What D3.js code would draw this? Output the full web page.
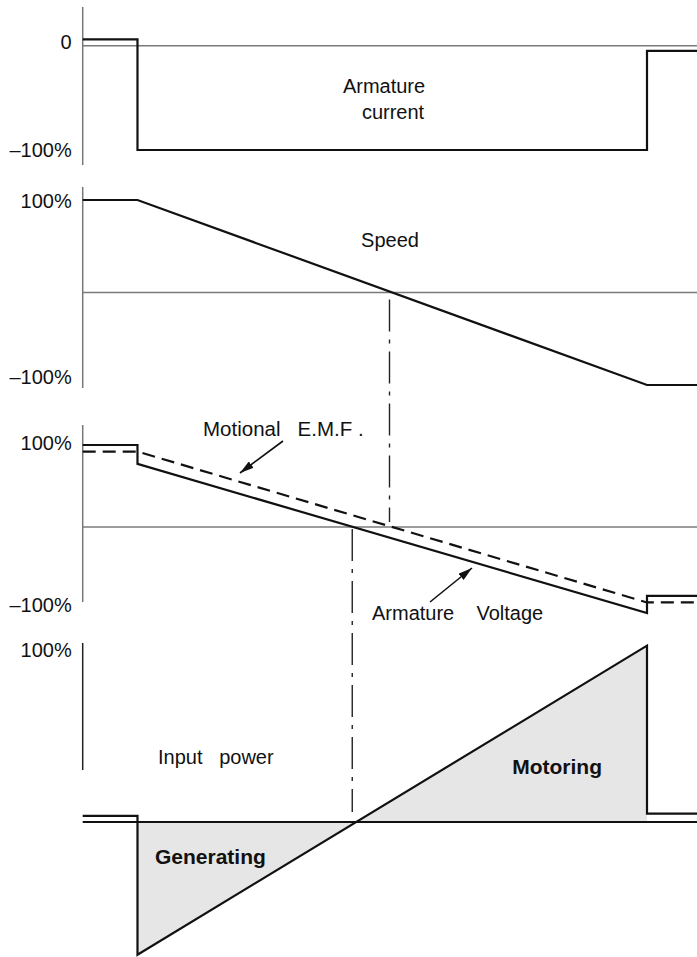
<!DOCTYPE html>
<html>
<head>
<meta charset="utf-8">
<script src="https://cdn.jsdelivr.net/npm/d3@7"></script>
<style>
  body { margin: 0; background: #fff; }
  text { font-family: "Liberation Sans", Arial, Helvetica, sans-serif; fill: #111; white-space: pre; }
</style>
</head>
<body>
<svg id="chart"></svg>
<script>
// time points (arbitrary units) and values in %
var currentT = [0, 1, 1, 10.3, 10.3, 11.25];
var currentV = [6, 6, -100, -100, -5, -5];
var speedT = [0, 1, 10.3, 11.25];
var speedV = [100, 100, -100, -100];
var emfT = [0, 1, 10.3, 11.25];
var emfV = [92, 92, -92, -92];
var voltT = [0, 1, 1, 10.3, 10.3, 11.25];
var voltV = [100, 100, 77, -105, -84, -84];
var powerT = [0, 1, 1, 10.3, 10.3, 11.25];
var powerV = [3.6, 3.6, -79, 105, 5, 5];
// times of the two dash-dot markers (speed zero, voltage zero)
var markerT = [5.6, 4.92];

var curTicks = [0, -100];
var curTickLabels = ["0", "\u2013100%"];
var spdTicks = [100, -100];
var volTicks = [100, -100];
var powTicks = [100];

var w = 697, h = 957;
var font = 20;

var svg = d3.select("#chart").attr("width", w).attr("height", h);

var x = d3.scaleLinear().domain([0, 10.3]).range([82.7, 647]);

var yCur = d3.scaleLinear().domain([0, -100]).range([45.7, 150]);
var ySpd = d3.scaleLinear().domain([100, -100]).range([200, 385]);
var yVol = d3.scaleLinear().domain([100, -100]).range([445, 609]);
var yPow = d3.scaleLinear().domain([0, 100]).range([822, 654]);

function pct(d) { return d < 0 ? "\u2013" + Math.abs(d) + "%" : d + "%"; }

// y axes: labels from d3.axisLeft, vertical line drawn by hand
// shift = small vertical nudge of each tick label, as in the drawing
function yAxis(scale, ticks, fmt, top, bottom, color, shift) {
  var g = svg.append("g")
    .attr("transform", "translate(" + x(0) + ",0)")
    .call(d3.axisLeft(scale).tickValues(ticks).tickFormat(fmt).tickSize(0).tickPadding(11));
  g.select(".domain").remove();
  g.selectAll("text")
    .style("font-family", "Liberation Sans, Arial, sans-serif")
    .style("font-size", font + "px")
    .attr("fill", "#111")
    .attr("y", function(d, i) { return shift[i]; });
  svg.append("line")
    .attr("x1", x(0)).attr("x2", x(0))
    .attr("y1", top).attr("y2", bottom)
    .attr("stroke", color).attr("stroke-width", 1.5);
}

yAxis(yCur, curTicks, function(d, i) { return curTickLabels[i]; }, 7, 165, "#777", [-3.5, 0]);
yAxis(ySpd, spdTicks, pct, 187, 388, "#777", [1.5, -8]);
yAxis(yVol, volTicks, pct, 425, 602, "#777", [-1.5, -3.5]);
yAxis(yPow, powTicks, pct, 643, 770, "#222", [-4]);

// zero lines
[yCur, ySpd, yVol].forEach(function(s) {
  svg.append("line")
    .attr("x1", x(0)).attr("x2", w)
    .attr("y1", s(0)).attr("y2", s(0))
    .attr("stroke", "#7a7a7a").attr("stroke-width", 1.5);
});

// power fill (generating / motoring)
var powPts = d3.zip(powerT, powerV);
var area = d3.area()
  .x(function(d) { return x(d[0]); })
  .y0(yPow(0))
  .y1(function(d) { return yPow(d[1]); });
svg.append("path")
  .datum(powPts.slice(2, 4))
  .attr("d", area)
  .attr("fill", "#e6e6e6");

svg.append("line")
  .attr("x1", x(0)).attr("x2", w)
  .attr("y1", yPow(0)).attr("y2", yPow(0))
  .attr("stroke", "#111").attr("stroke-width", 2);

function trace(tt, vv, y, dash) {
  var line = d3.line()
    .x(function(d) { return x(d[0]); })
    .y(function(d) { return y(d[1]); });
  svg.append("path")
    .datum(d3.zip(tt, vv))
    .attr("d", line)
    .attr("fill", "none")
    .attr("stroke", "#111")
    .attr("stroke-width", 2.2)
    .attr("stroke-linejoin", "miter")
    .attr("stroke-dasharray", dash || null);
}

trace(currentT, currentV, yCur);
trace(speedT, speedV, ySpd);
trace(emfT, emfV, yVol, "13,7");
trace(voltT, voltV, yVol);
trace(powerT, powerV, yPow);

// dash-dot markers
svg.append("line")
  .attr("x1", x(markerT[0])).attr("x2", x(markerT[0]))
  .attr("y1", ySpd(0) + 7).attr("y2", yVol(0) - 5)
  .attr("stroke", "#222").attr("stroke-width", 1.4)
  .attr("stroke-dasharray", "32,8,4,8");
svg.append("line")
  .attr("x1", x(markerT[1])).attr("x2", x(markerT[1]))
  .attr("y1", yVol(0) + 2).attr("y2", yPow(0) - 10)
  .attr("stroke", "#222").attr("stroke-width", 1.4)
  .attr("stroke-dasharray", "32,8,4,8");

// arrows
svg.append("defs").append("marker")
  .attr("id", "head")
  .attr("viewBox", "0 0 14 8")
  .attr("refX", 14).attr("refY", 4)
  .attr("markerWidth", 14).attr("markerHeight", 8)
  .attr("markerUnits", "userSpaceOnUse")
  .attr("orient", "auto")
  .append("path")
  .attr("d", "M0,0L14,4L0,8z")
  .attr("fill", "#111");

function arrow(x1, y1, x2, y2) {
  svg.append("line")
    .attr("x1", x1).attr("y1", y1).attr("x2", x2).attr("y2", y2)
    .attr("stroke", "#111").attr("stroke-width", 1.6)
    .attr("marker-end", "url(#head)");
}
arrow(283, 441, 240, 473);
arrow(430, 602, 472, 568);

// labels
function label(txt, xx, yy, anchor, bold, size) {
  svg.append("text")
    .attr("x", xx).attr("y", yy)
    .attr("text-anchor", anchor || "start")
    .style("font-size", (size || (bold ? 21 : 20)) + "px")
    .style("font-weight", bold ? "bold" : "normal")
    .text(txt);
}
label("Armature", 384, 93, "middle");
label("current", 393, 119, "middle");
label("Speed", 390, 247, "middle");
label("Motional   E.M.F .", 203, 436, "start", false, 20.5);
label("Armature    Voltage", 372, 620);
label("Input   power", 158, 764);
label("Motoring", 602, 774, "end", true);
label("Generating", 155, 864, "start", true);
</script>
</body>
</html>
